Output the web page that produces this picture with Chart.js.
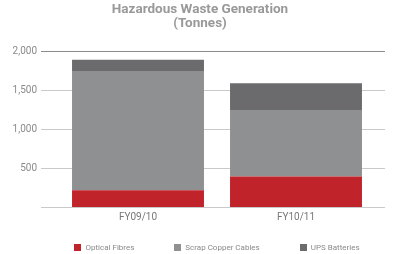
<!DOCTYPE html>
<html>
<head>
<meta charset="utf-8">
<script src="https://cdn.jsdelivr.net/npm/chart.js@4/dist/chart.umd.min.js"></script>
<style>
  html, body { margin: 0; padding: 0; background: #fff; }
  #wrap { width: 400px; height: 254px; position: relative; }
  #legend {
    position: absolute; left: 59px; width: 316px; top: 243px;
    display: flex; justify-content: center; gap: 40px;
    font: 8px Roboto, 'DejaVu Sans', sans-serif; color: #8a8a8a;
  }
  #legend span.item { display: flex; align-items: center; white-space: nowrap; }
  #legend span.box { width: 7px; height: 7px; margin-right: 4px; display: inline-block; }
</style>
</head>
<body>
<div id="wrap"><canvas id="wasteChart"></canvas><div id="legend"></div></div>
<script>
  // --- Data ---
  const categories = ['FY09/10', 'FY10/11'];
  const opticalFibres = [215, 390];
  const scrapCopper = [1530, 855];
  const upsBatteries = [145, 342];
  const yTicks = [500, 1000, 1500, 2000];

  const textGrey = '#8a8a8a';
  const fontFamily = "Roboto, 'DejaVu Sans', sans-serif";

  // horizontal gridlines that run past the plot on both sides
  const gridLines = {
    id: 'gridLines',
    beforeDatasetsDraw: function (chart) {
      const y = chart.scales.y;
      const c = chart.ctx;
      c.save();
      c.lineWidth = 1;
      [0].concat(yTicks).forEach(function (v) {
        const py = Math.round(y.getPixelForValue(v)) + 0.5;
        c.strokeStyle = v === 2000 ? '#8c8c8c' : '#c9c9c9';
        c.beginPath();
        c.moveTo(41, py);
        c.lineTo(385, py);
        c.stroke();
      });
      c.restore();
    }
  };

  const chart = new Chart(document.getElementById('wasteChart'), {
    type: 'bar',
    data: {
      labels: categories,
      datasets: [
        { label: 'Optical Fibres', data: opticalFibres, backgroundColor: '#c1232a' },
        { label: 'Scrap Copper Cables', data: scrapCopper, backgroundColor: '#8f9092' },
        { label: 'UPS Batteries', data: upsBatteries, backgroundColor: '#6b6b6d' }
      ]
    },
    options: {
      responsive: true,
      maintainAspectRatio: false,
      animation: false,
      layout: { padding: { left: 0, right: 0, top: 0, bottom: 27 } },
      datasets: {
        bar: { barPercentage: 0.835, categoryPercentage: 1.0, borderWidth: 0 }
      },
      plugins: {
        title: {
          display: true,
          text: ['Hazardous Waste Generation', '(Tonnes)'],
          color: '#999999',
          font: { family: fontFamily, size: 13.5, weight: 'bold', lineHeight: 1.04 },
          padding: { top: 3, bottom: 20 }
        },
        legend: { display: false },
        tooltip: { enabled: false }
      },
      scales: {
        x: {
          stacked: true,
          grid: { display: false, drawTicks: false },
          border: { display: false },
          ticks: { color: '#777', padding: 4, font: { family: fontFamily, size: 10 } }
        },
        y: {
          stacked: true,
          min: 0,
          max: 2000,
          grid: { display: false, drawTicks: false },
          border: { display: false },
          afterFit: function (s) { s.width = 59; },
          afterBuildTicks: function (s) {
            s.ticks = yTicks.map(function (v) { return { value: v }; });
          },
          ticks: {
            color: textGrey,
            padding: 22,
            font: { family: fontFamily, size: 10 },
            callback: function (v) { return v.toLocaleString('en-US'); }
          }
        },
        // empty right-hand gutter so the title stays centred on the canvas
        y2: {
          position: 'right',
          grid: { display: false, drawTicks: false },
          border: { display: false },
          ticks: { display: false },
          afterFit: function (s) { s.width = 25; }
        }
      }
    },
    plugins: [gridLines]
  });

  // --- HTML legend built from the datasets ---
  const legendEl = document.getElementById('legend');
  chart.data.datasets.forEach(function (ds) {
    const item = document.createElement('span');
    item.className = 'item';
    const box = document.createElement('span');
    box.className = 'box';
    box.style.background = ds.backgroundColor;
    item.appendChild(box);
    item.appendChild(document.createTextNode(ds.label));
    legendEl.appendChild(item);
  });
</script>
</body>
</html>
